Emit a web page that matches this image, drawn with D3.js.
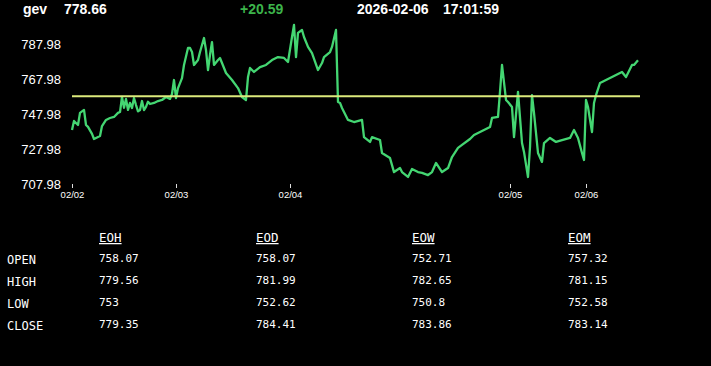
<!DOCTYPE html>
<head>
<meta charset="utf-8">
<title>gev</title>
<style>
body { margin: 0; background: #000; }
svg text { fill: #fff; }
.hdr { font: bold 14px "Liberation Sans", Arial, sans-serif; }
.ylab { font: 13px "Liberation Sans", Arial, sans-serif; }
.xlab { font: 9.5px "Liberation Sans", Arial, sans-serif; }
.mono { font-family: "DejaVu Sans Mono", monospace; }
</style>
<script src="https://cdn.jsdelivr.net/npm/d3@7"></script>
</head>
<body>
<svg id="chart" width="711" height="366"></svg>
<script>
// header
var symbol = "gev", lastPrice = "778.66", change = "+20.59", quoteDate = "2026-02-06", quoteTime = "17:01:59";
var prevClose = 758.07;

// price series: bar number in the session window, price
var bars = [0,1,3,4,6,7,8,10,11,12,14,15,17,19,21,23,24,25,26,27,28,29,30,31,32,33,34,35,36,37,38,39,41,43,45,47,49,50,51,52,53,55,56,58,59,60,61,63,64,66,67,68,69,70,71,73,74,75,77,80,83,85,87,88,89,91,94,97,100,103,106,108,110,111,112,113,115,116,118,120,123,125,126,129,130,132,133,134,135,138,141,145,146,149,150,154,155,159,161,164,165,168,170,173,175,178,180,182,185,188,190,193,195,199,201,204,209,210,213,214,215,217,218,220,221,223,225,226,228,229,230,231,233,235,236,239,242,245,249,251,253,255,256,257,258,260,261,262,264,267,270,275,277,280,281,283];
var prices = [738.8,744.0,741.7,748.6,750.3,741.7,740.6,736.6,733.7,734.3,735.4,741.1,744.6,745.7,746.3,748.6,749.1,757.7,751.5,756.6,750.3,754.3,751.4,757.1,753.1,749.5,750.3,755.4,750.2,752.0,755.0,753.7,754.3,755.4,756.0,757.7,756.6,759.4,767.4,757.1,762.8,768.5,776.0,785.7,785.7,783.4,776.0,778.8,783.4,791.4,784.5,773.1,781.7,789.1,776.0,778.8,780.0,777.1,771.4,767.4,762.8,757.7,756.0,769.1,774.3,772.0,774.8,776.0,778.8,780.5,780.0,777.7,792.0,798.9,780.5,794.3,796.0,792.0,786.3,782.8,773.1,777.1,780.5,783.4,786.3,796.0,754.8,754.3,751.4,744.6,743.4,744.6,734.8,732.0,734.8,733.1,725.7,722.8,714.8,717.1,714.8,712.0,716.6,714.8,714.3,713.1,714.8,720.0,714.8,717.1,723.4,728.6,730.3,733.7,736.0,737.7,740.6,745.7,746.3,760.6,776.0,756.0,754.8,752.0,734.8,760.6,731.4,726.3,712.0,729.1,758.8,748.6,725.7,720.6,731.4,734.3,732.0,733.1,734.3,738.8,734.3,725.7,721.7,756.0,752.0,737.7,754.3,758.8,765.7,767.4,769.1,772.0,769.1,776.0,776.0,778.66];

var dayBars = [0, 52, 109, 219, 257];
var dayLabels = ["02/02", "02/03", "02/04", "02/05", "02/06"];
var yTicks = [707.98, 727.98, 747.98, 767.98, 787.98];

// summary table
var rowLabels = ["OPEN", "HIGH", "LOW", "CLOSE"];
var colLabels = ["EOH", "EOD", "EOW", "EOM"];
var eoh = ["758.07", "779.56", "753", "779.35"];
var eod = ["758.07", "781.99", "752.62", "784.41"];
var eow = ["752.71", "782.65", "750.8", "783.86"];
var eom = ["757.32", "781.15", "752.58", "783.14"];

var svg = d3.select("#chart");

// header line
var hdr = [[symbol, 23, "#fff"], [lastPrice, 64, "#fff"], [change, 240, "#3cb44b"], [quoteDate, 357, "#fff"], [quoteTime, 443, "#fff"]];
svg.selectAll("text.hdr").data(hdr).enter().append("text")
  .attr("class", "hdr")
  .attr("x", function(d) { return d[1]; })
  .attr("y", 14)
  .style("fill", function(d) { return d[2]; })
  .text(function(d) { return d[0]; });

var x = d3.scaleLinear().domain([0, 284]).range([72, 640]);
var y = d3.scaleLinear().domain([707.98, 807.98]).range([184, 9]);

// y labels
svg.selectAll("text.ylab").data(yTicks).enter().append("text")
  .attr("class", "ylab")
  .attr("x", 61)
  .attr("y", function(d) { return y(d); })
  .attr("dy", "0.35em")
  .attr("text-anchor", "end")
  .text(function(d) { return d.toFixed(2); });

// x axis (day starts)
var xAxis = d3.axisBottom(x).tickValues(dayBars).tickSize(4).tickPadding(3)
  .tickFormat(function(d, i) { return dayLabels[i]; });
var gx = svg.append("g").attr("transform", "translate(0,184)").call(xAxis);
gx.select(".domain").remove();
gx.selectAll("line").attr("stroke", "#ddd");
gx.selectAll("text").attr("class", "xlab").attr("fill", "#fff").attr("font-family", null).attr("font-size", null);

// price line
var pts = bars.map(function(b, i) { return [b, prices[i]]; });
svg.append("path")
  .datum(pts)
  .attr("fill", "none")
  .attr("stroke", "#44d672")
  .attr("stroke-width", 2.3)
  .attr("stroke-linejoin", "round")
  .attr("d", d3.line().x(function(d) { return x(d[0]); }).y(function(d) { return y(d[1]); }));

// previous close
svg.append("line")
  .attr("x1", x(0)).attr("x2", x(284))
  .attr("y1", y(prevClose)).attr("y2", y(prevClose))
  .attr("stroke", "#dcea7c")
  .attr("stroke-width", 2);

// table
var colX = [99, 256, 412, 568];
var rowY = [262, 284, 306, 328];
var cols = [eoh, eod, eow, eom];

svg.selectAll("text.colh").data(colLabels).enter().append("text")
  .attr("class", "mono")
  .attr("x", function(d, i) { return colX[i]; })
  .attr("y", 242)
  .attr("font-size", 12.5)
  .attr("text-decoration", "underline")
  .text(function(d) { return d; });

svg.selectAll("text.rowh").data(rowLabels).enter().append("text")
  .attr("class", "mono")
  .attr("x", 7)
  .attr("y", function(d, i) { return rowY[i] + 2; })
  .attr("font-size", 12)
  .text(function(d) { return d; });

cols.forEach(function(col, c) {
  svg.selectAll(null).data(col).enter().append("text")
    .attr("class", "mono")
    .attr("x", colX[c])
    .attr("y", function(d, i) { return rowY[i]; })
    .attr("font-size", 11)
    .text(function(d) { return d; });
});
</script>
</body>
